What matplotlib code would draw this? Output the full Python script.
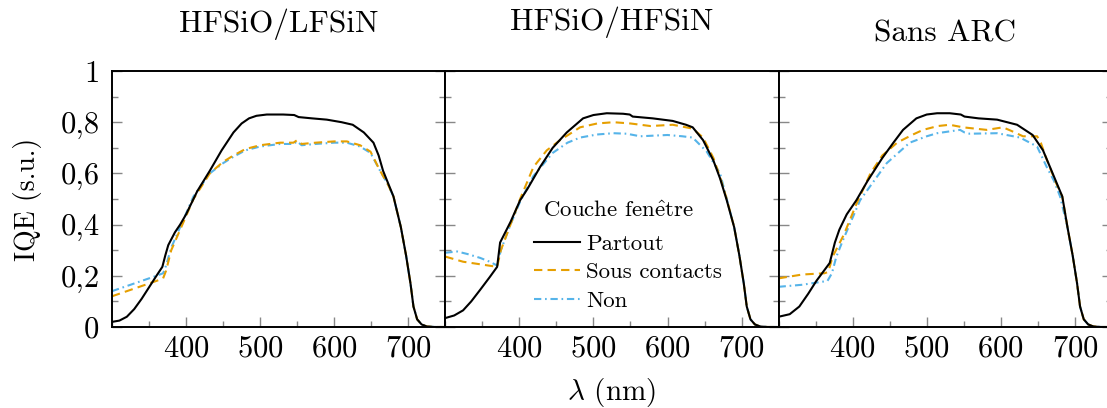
import matplotlib
matplotlib.use("Agg")
import matplotlib.pyplot as plt
from matplotlib.ticker import MultipleLocator

plt.rcParams['font.family'] = ['cmr10', 'DejaVu Serif']
plt.rcParams['mathtext.fontset'] = 'cm'
plt.rcParams['axes.formatter.use_mathtext'] = True

# common tail of every curve (same for all series)
tail_wl = [690, 697, 703, 707, 712, 718, 725, 735, 750]
tail_iqe = [0.39, 0.28, 0.17, 0.08, 0.03, 0.01, 0.002, 0.0, 0.0]

# HFSiO/LFSiN
p1_partout_wl = [300, 310, 320, 330, 340, 350, 360, 368, 372, 376, 385, 392, 400, 415, 432, 448, 464, 475, 485,
                 495, 509, 531, 546, 552, 570, 590, 610, 625, 640, 653, 660, 666, 673, 680]
p1_partout = [0.02, 0.025, 0.04, 0.07, 0.11, 0.155, 0.20, 0.235, 0.28, 0.32, 0.37, 0.40, 0.44, 0.53, 0.61, 0.69,
              0.76, 0.795, 0.815, 0.825, 0.83, 0.83, 0.828, 0.82, 0.815, 0.81, 0.80, 0.79, 0.76, 0.72, 0.67, 0.61,
              0.56, 0.51]
p1_sous_wl = [300, 320, 340, 360, 369, 373, 380, 392, 410, 432, 450, 464, 480, 500, 527, 545, 550, 556, 575, 600,
              617, 635, 649, 662, 672, 680]
p1_sous = [0.12, 0.14, 0.16, 0.18, 0.19, 0.22, 0.30, 0.38, 0.50, 0.60, 0.645, 0.67, 0.695, 0.71, 0.72, 0.72, 0.73,
           0.715, 0.72, 0.725, 0.725, 0.71, 0.685, 0.61, 0.56, 0.51]
p1_non_wl = [300, 320, 340, 360, 369, 373, 380, 392, 410, 432, 450, 464, 480, 500, 527, 545, 550, 556, 575, 600,
             617, 635, 649, 662, 672, 680]
p1_non = [0.14, 0.16, 0.18, 0.20, 0.21, 0.24, 0.31, 0.39, 0.51, 0.60, 0.64, 0.665, 0.69, 0.705, 0.715, 0.715, 0.725,
          0.71, 0.715, 0.72, 0.72, 0.705, 0.68, 0.61, 0.56, 0.51]

# HFSiO/HFSiN
p2_partout_wl = [300, 312, 324, 335, 347, 360, 370, 374, 388, 401, 411, 428, 445, 464, 486, 500, 518, 540, 549, 553,
                 580, 607, 625, 634, 648, 662, 671, 680]
p2_partout = [0.035, 0.045, 0.065, 0.10, 0.145, 0.195, 0.235, 0.33, 0.41, 0.495, 0.54, 0.625, 0.70, 0.76, 0.815,
              0.828, 0.835, 0.833, 0.83, 0.822, 0.815, 0.805, 0.79, 0.78, 0.73, 0.65, 0.58, 0.495]
p2_sous_wl = [300, 312, 324, 347, 370, 375, 388, 401, 419, 437, 455, 482, 505, 527, 550, 577, 607, 634, 648, 662,
              671, 680]
p2_sous = [0.275, 0.265, 0.255, 0.245, 0.235, 0.30, 0.40, 0.50, 0.625, 0.69, 0.73, 0.78, 0.795, 0.80, 0.795, 0.785,
           0.79, 0.775, 0.74, 0.66, 0.585, 0.50]
p2_non_wl = [300, 316, 330, 347, 360, 370, 375, 388, 401, 419, 445, 465, 482, 505, 527, 545, 563, 600, 620, 634, 653,
             671, 680]
p2_non = [0.29, 0.295, 0.285, 0.27, 0.255, 0.24, 0.30, 0.40, 0.49, 0.59, 0.68, 0.72, 0.74, 0.752, 0.757, 0.755,
          0.745, 0.75, 0.745, 0.74, 0.685, 0.60, 0.50]

# Sans ARC
p3_partout_wl = [300, 315, 328, 340, 351, 360, 369, 376, 382, 392, 405, 420, 440, 455, 468, 486, 500, 514, 531, 546,
                 551, 570, 595, 622, 643, 657, 670, 683]
p3_partout = [0.04, 0.05, 0.08, 0.13, 0.18, 0.215, 0.25, 0.33, 0.38, 0.44, 0.495, 0.57, 0.66, 0.72, 0.77, 0.815,
              0.83, 0.835, 0.835, 0.83, 0.822, 0.815, 0.81, 0.79, 0.75, 0.69, 0.60, 0.51]
p3_sous_wl = [300, 332, 362, 367, 373, 388, 405, 424, 440, 460, 480, 495, 515, 531, 549, 565, 581, 603, 615, 630,
              649, 654, 660, 666, 675, 683]
p3_sous = [0.19, 0.205, 0.21, 0.215, 0.275, 0.36, 0.48, 0.60, 0.67, 0.72, 0.75, 0.77, 0.785, 0.79, 0.78, 0.775,
           0.77, 0.78, 0.765, 0.745, 0.745, 0.72, 0.67, 0.625, 0.56, 0.51]
p3_non_wl = [300, 332, 366, 372, 378, 387, 410, 446, 477, 500, 514, 545, 551, 558, 595, 626, 649, 662, 672, 680]
p3_non = [0.157, 0.165, 0.18, 0.21, 0.275, 0.34, 0.495, 0.64, 0.72, 0.745, 0.757, 0.77, 0.76, 0.755, 0.757, 0.74,
          0.705, 0.625, 0.57, 0.51]

titles = ['HFSiO/LFSiN', 'HFSiO/HFSiN', 'Sans ARC']
labels = ['Partout', 'Sous contacts', 'Non']
colors = ['black', '#E69F00', '#56B4E9']
styles = ['-', (0, (4, 2.5)), (0, (3.5, 1.8, 0.8, 1.8))]
ytick_labels = ['0', '0,2', '0,4', '0,6', '0,8', '1']

panels = [
    [(p1_partout_wl, p1_partout), (p1_sous_wl, p1_sous), (p1_non_wl, p1_non)],
    [(p2_partout_wl, p2_partout), (p2_sous_wl, p2_sous), (p2_non_wl, p2_non)],
    [(p3_partout_wl, p3_partout), (p3_sous_wl, p3_sous), (p3_non_wl, p3_non)],
]

W, H = 1107, 408
fig = plt.figure(figsize=(W / 100, H / 100), dpi=100)
x0, pw = 112, 333.3
top, bot = 71, 327

axes = []
for i in range(3):
    ax = fig.add_axes([(x0 + i * pw) / W, 1 - bot / H, pw / W, (bot - top) / H])
    axes.append(ax)
    for j, (wl, v) in enumerate(panels[i]):
        ax.plot(wl + tail_wl, v + tail_iqe, color=colors[j], linestyle=styles[j], linewidth=1.5,
                label=labels[j], zorder=3 - j)
    ax.set_xlim(300, 750)
    ax.set_ylim(0, 1)
    ax.xaxis.set_minor_locator(MultipleLocator(50))
    ax.yaxis.set_major_locator(MultipleLocator(0.2))
    ax.yaxis.set_minor_locator(MultipleLocator(0.1))
    ax.set_xticks([400, 500, 600, 700])
    ax.tick_params(which='both', direction='in', color='#888888', width=1.0,
                   top=False, right=True, labelsize=22, pad=6)
    ax.tick_params(which='major', length=7)
    ax.tick_params(which='minor', length=4.5)
    for s in ax.spines.values():
        s.set_linewidth(1.4)
    if i == 0:
        ax.set_yticks([0, 0.2, 0.4, 0.6, 0.8, 1.0])
        ax.set_yticklabels(ytick_labels)
        ax.tick_params(axis='y', pad=9)
    else:
        ax.tick_params(axis='y', labelleft=False)

title_y = [32, 30, 42]
for i, t in enumerate(titles):
    fig.text((x0 + (i + 0.5) * pw) / W, 1 - title_y[i] / H, t, ha='center', va='baseline', fontsize=22.5)

fig.text(27 / W, 1 - 199 / H, 'IQE (s.u.)', rotation=90, ha='center', va='center', fontsize=20)
fig.text((x0 + 1.5 * pw) / W, 1 - 400 / H, r'$\lambda$ (nm)', ha='center', va='baseline', fontsize=21)

leg = axes[1].legend(title=r'Couche fen$\hat{\mathrm{e}}$tre', loc='upper left',
                     bbox_to_anchor=(520 / W, 1 - 187 / H),
                     bbox_transform=fig.transFigure, frameon=False, fontsize=16.5, title_fontsize=16.5,
                     handlelength=2.0, handletextpad=0.3, labelspacing=0.38, borderpad=0.1,
                     alignment='left')
leg._legend_box.sep = 9
leg.get_title().set_x(9)

fig.savefig('out.png', dpi=100)
